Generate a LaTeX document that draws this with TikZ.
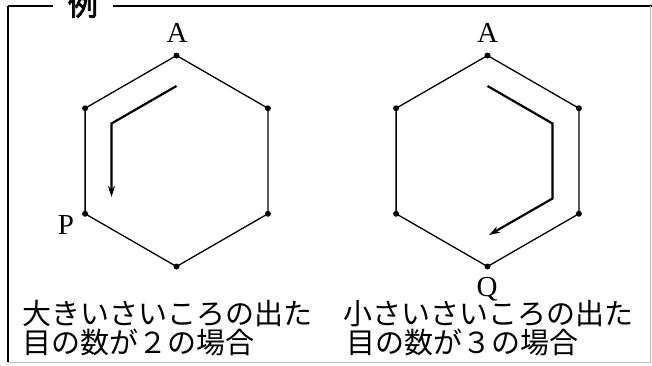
\documentclass[tikz,border=0pt]{standalone}
\usepackage{fontspec}
\newfontfamily\cjk{Noto Sans CJK JP}
\newfontfamily\cjkbold{Noto Sans CJK JP}[FakeBold=2.5]
\newfontfamily\lettfont{Liberation Serif}
\usetikzlibrary{arrows.meta}
\tikzset{
  vdot/.style={circle,fill=black,inner sep=0pt,minimum size=6pt},
  hexline/.style={line width=1.3pt},
  pathline/.style={line width=2.2pt,-{Stealth[length=11pt,width=7pt]}},
  letter/.style={font=\lettfont\fontsize{29}{29}\selectfont,inner sep=0pt},
  caption/.style={font=\cjk\fontsize{29}{29}\selectfont,inner sep=0pt,anchor=base west},
  frame/.style={line width=2pt}
}
\begin{document}
\begin{tikzpicture}[x=1pt,y=-1pt]
\useasboundingbox (0,0) rectangle (652,365);
% frame
\node[font=\cjkbold\fontsize{30}{30}\selectfont,inner sep=0pt] (title) at (83,4) {例};
\coordinate (fl) at (8,6);
\coordinate (fg1) at (53,6);
\coordinate (fg2) at (113,6);
\coordinate (fr) at (652,6);
\coordinate (fbl) at (8,362);
\coordinate (fbr) at (650,362);
\coordinate (frt) at (650,6);
\draw[frame,line width=2.5pt] (fg1) -- (fl);
\draw[frame] (fl) -- (fbl);
\draw[frame,line width=2.5pt] (fg2) -- (fr);
\draw[gray!50,line width=0.8pt] (fbl) -- (fbr) -- (frt);
% hexagon 1
\node[vdot] (h1t)  at (176.5,55.5) {};
\node[vdot] (h1ul) at (85.1,108.25) {};
\node[vdot] (h1ll) at (85.1,213.75) {};
\node[vdot] (h1b)  at (176.5,266.5) {};
\node[vdot] (h1lr) at (267.9,213.75) {};
\node[vdot] (h1ur) at (267.9,108.25) {};
\draw[hexline] (h1t.center) -- (h1ul.center) -- (h1ll.center) -- (h1b.center) -- (h1lr.center) -- (h1ur.center) -- cycle;
% hexagon 2
\node[vdot] (h2t)  at (487.5,55.5) {};
\node[vdot] (h2ul) at (396.1,108.25) {};
\node[vdot] (h2ll) at (396.1,213.75) {};
\node[vdot] (h2b)  at (487.5,266.5) {};
\node[vdot] (h2lr) at (578.9,213.75) {};
\node[vdot] (h2ur) at (578.9,108.25) {};
\draw[hexline] (h2t.center) -- (h2ul.center) -- (h2ll.center) -- (h2b.center) -- (h2lr.center) -- (h2ur.center) -- cycle;
% labels
\node[letter] (lA1) at (177,33) {A};
\node[letter] (lP) at (66,225) {P};
\node[letter] (lA2) at (487.5,33) {A};
\node[letter] (lQ) at (487,289) {Q};
% arrows
\coordinate (a1s) at (176.5,86);
\coordinate (a1m) at (111.5,123.5);
\coordinate (a1e) at (111.5,197);
\draw[pathline] (a1s) -- (a1m) -- (a1e);
\coordinate (a2s) at (487.5,86);
\coordinate (a2m) at (552.5,123.5);
\coordinate (a2n) at (552.5,198.5);
\coordinate (a2e) at (489,235);
\draw[pathline] (a2s) -- (a2m) -- (a2n) -- (a2e);
% captions
\node[caption] (c1a) at (22,324) {大きいさいころの出た};
\node[caption] (c1b) at (22,353) {目の数が２の場合};
\node[caption] (c2a) at (343,324) {小さいさいころの出た};
\node[caption] (c2b) at (346,353) {目の数が３の場合};
\end{tikzpicture}
\end{document}
